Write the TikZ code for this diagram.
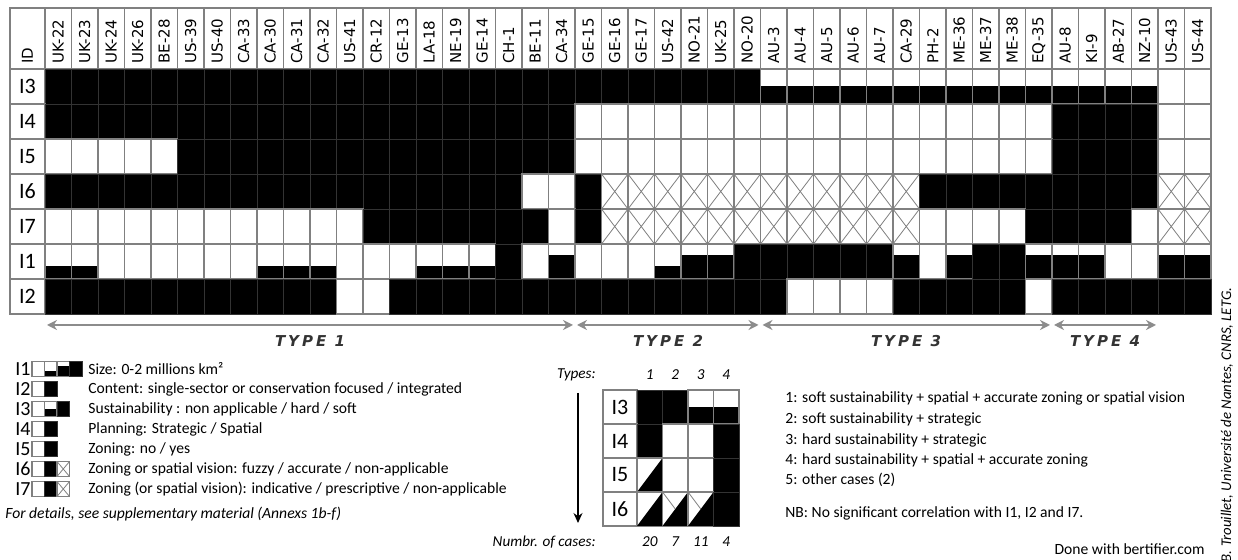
\documentclass[tikz,border=0pt]{standalone}
\usepackage{fontspec}
\setmainfont{Carlito}
\newfontfamily\hdrfont{DejaVu Sans}
\newfontfamily\typefont[LetterSpace=20]{DejaVu Sans}
\usetikzlibrary{arrows.meta}
\newcommand\cellw{26.5}
\newcommand\cellh{35}
\tikzset{
    cellbox/.style = {draw=gray, line width=0.6pt},
    cellblack/.style = {draw=black!80, line width=0.3pt, fill=black},
    % one cell of the matrix, drawn from its top left corner
    pics/cell w/.style = {code={\path[cellbox, fill=white] (0,0) rectangle (\cellw,\cellh);}},
    pics/cell b/.style = {code={\path[cellblack] (0,0) rectangle (\cellw,\cellh);}},
    pics/cell x/.style = {code={\path[cellbox, fill=white] (0,0) rectangle (\cellw,\cellh);
            \draw[gray, line width=0.4pt] (0,0) -- (\cellw,\cellh) (\cellw,0) -- (0,\cellh);}},
    pics/cell h/.style = {code={\fill[white] (0,0) rectangle (\cellw,\cellh);
            \fill[black] (0,{0.5*\cellh}) rectangle (\cellw,\cellh);
            \path[cellbox] (0,0) rectangle (\cellw,\cellh);}},
    pics/cell s/.style = {code={\fill[white] (0,0) rectangle (\cellw,\cellh);
            \fill[black] (0,{0.63*\cellh}) rectangle (\cellw,\cellh);
            \path[cellbox] (0,0) rectangle (\cellw,\cellh);}},
    pics/cell g/.style = {code={\fill[white] (0,0) rectangle (\cellw,\cellh);
            \fill[black] (0,{0.31*\cellh}) rectangle (\cellw,\cellh);
            \path[cellbox] (0,0) rectangle (\cellw,\cellh);}},
    pics/cell t/.style = {code={\path[cellbox, fill=white] (0,0) rectangle (\cellw,\cellh);
            \fill[black] (0,\cellh) -- (\cellw,0) -- (\cellw,\cellh) -- cycle;}},
    pics/cell tx/.style = {code={\path[cellbox, fill=white] (0,0) rectangle (\cellw,\cellh);
            \fill[black] (0,\cellh) -- (\cellw,0) -- (\cellw,\cellh) -- cycle;
            \draw[gray, line width=0.4pt] (0,0) -- ({0.5*\cellw},{0.5*\cellh});}},
    hdr/.style = {rotate=90, anchor=west, inner sep=1pt, font=\hdrfont\fontsize{7.5}{9}\selectfont},
    rowlab/.style = {inner sep=0pt, font=\fontsize{11}{13}\selectfont},
    legtext/.style = {anchor=west, inner sep=0pt, font=\fontsize{7.8}{9}\selectfont},
    typelab/.style = {text=black!80, font=\typefont\bfseries\itshape\fontsize{7.5}{9}\selectfont},
    typearrow/.style = {{Stealth[length=5pt,width=5pt]}-{Stealth[length=5pt,width=5pt]},
        draw=gray!90, line width=1pt, shorten <=1pt, shorten >=1pt},
}

\begin{document}
\begin{tikzpicture}[x=0.5pt, y=-0.5pt]
    \useasboundingbox[fill=white] (0,0) rectangle (1238,560);

    % header row
    \path[cellbox, fill=white] (10,8) rectangle (45,69);
    \node[hdr] (hID) at (27.5,66) {ID};
    \foreach \n [count=\i] in {UK-22,UK-23,UK-24,UK-26,BE-28,US-39,US-40,CA-33,CA-30,CA-31,CA-32,US-41,CR-12,GE-13,LA-18,NE-19,GE-14,CH-1,BE-11,CA-34,GE-15,GE-16,GE-17,US-42,NO-21,UK-25,NO-20,AU-3,AU-4,AU-5,AU-6,AU-7,CA-29,PH-2,ME-36,ME-37,ME-38,EQ-35,AU-8,KI-9,AB-27,NZ-10,US-43,US-44} {
        \path[cellbox, fill=white] ({45+(\i-1)*26.5},8) rectangle ++(26.5,61);
        \node[hdr] (h\i) at ({45+(\i-0.5)*26.5},66) {\n};
    }

    % matrix cells
    \foreach \lab/\vals [count=\r] in {
        I3/{b,b,b,b,b,b,b,b,b,b,b,b,b,b,b,b,b,b,b,b,b,b,b,b,b,b,b,h,h,h,h,h,h,h,h,h,h,h,h,h,h,h,w,w},
        I4/{b,b,b,b,b,b,b,b,b,b,b,b,b,b,b,b,b,b,b,b,w,w,w,w,w,w,w,w,w,w,w,w,w,w,w,w,w,w,b,b,b,b,w,w},
        I5/{w,w,w,w,w,b,b,b,b,b,b,b,b,b,b,b,b,b,b,b,w,w,w,w,w,w,w,w,w,w,w,w,w,w,w,w,w,w,b,b,b,b,w,w},
        I6/{b,b,b,b,b,b,b,b,b,b,b,b,b,b,b,b,b,b,w,w,b,x,x,x,x,x,x,x,x,x,x,x,x,b,b,b,b,b,b,b,b,b,x,x},
        I7/{w,w,w,w,w,w,w,w,w,w,w,w,b,b,b,b,b,b,b,w,b,x,x,x,x,x,x,x,x,x,x,x,x,w,w,w,w,b,b,b,b,w,x,x},
        I1/{s,s,w,w,w,w,w,w,s,s,s,w,w,w,s,s,s,b,w,g,w,w,w,s,g,g,b,b,b,b,b,b,g,w,g,b,b,g,g,g,w,w,g,g},
        I2/{b,b,b,b,b,b,b,b,b,b,b,w,w,b,b,b,b,b,b,b,b,b,b,b,b,b,b,b,w,w,w,w,b,b,b,b,b,w,b,b,b,b,b,b}} {
        \path[cellbox, fill=white] (10,{69+(\r-1)*35}) rectangle ++(35,35);
        \node[rowlab] (r\lab) at (27.5,{69+(\r-0.5)*35}) {\lab};
        \foreach \c [count=\i] in \vals
            \pic at ({45+(\i-1)*26.5},{69+(\r-1)*35}) {cell \c};
    }

    % types
    \coordinate (t0) at (45,325);
    \coordinate (t1) at (575,325);
    \coordinate (t2) at (760.5,325);
    \coordinate (t3) at (1052,325);
    \coordinate (t4) at (1158,325);
    \draw[typearrow] (t0) -- (t1);
    \draw[typearrow] (t1) -- (t2);
    \draw[typearrow] (t2) -- (t3);
    \draw[typearrow] (t3) -- (t4);
    \node[typelab] (type1) at (310,341) {TYPE 1};
    \node[typelab] (type2) at (668,341) {TYPE 2};
    \node[typelab] (type3) at (906,341) {TYPE 3};
    \node[typelab] (type4) at (1105,341) {TYPE 4};

    % legend
    \renewcommand\cellw{12.5}
    \renewcommand\cellh{15}
    \foreach \lab/\vals [count=\k] in {I1/{w,s,g,b}, I2/{w,b}, I3/{w,h,b}, I4/{w,b}, I5/{w,b}, I6/{w,b,x}, I7/{w,b,x}} {
        \node[rowlab, anchor=east, font=\fontsize{10}{12}\selectfont] (l\lab) at (31,{369+(\k-1)*20}) {\lab};
        \foreach \c [count=\i] in \vals
            \pic at ({32+(\i-1)*12.5},{361.5+(\k-1)*20}) {cell \c};
    }
    \node[legtext] (leg1) at (88,369) {Size: 0-2 millions km²};
    \node[legtext] (leg2) at (88,389) {Content: single-sector or conservation focused / integrated};
    \node[legtext] (leg3) at (88,409) {Sustainability : non applicable / hard / soft};
    \node[legtext] (leg4) at (88,429) {Planning: Strategic / Spatial};
    \node[legtext] (leg5) at (88,449) {Zoning: no / yes};
    \node[legtext] (leg6) at (88,469) {Zoning or spatial vision: fuzzy / accurate / non-applicable};
    \node[legtext] (leg7) at (88,489) {Zoning (or spatial vision): indicative / prescriptive / non-applicable};
    \node[legtext, font=\fontsize{7.8}{9}\selectfont\itshape] (details) at (5,514) {For details, see supplementary material (Annexs 1b-f)};

    % summary matrix
    \renewcommand\cellw{25.5}
    \renewcommand\cellh{34}
    \foreach \lab/\vals [count=\r] in {I3/{b,b,h,h}, I4/{b,w,w,b}, I5/{t,w,w,b}, I6/{t,tx,tx,b}} {
        \path[cellbox, fill=white] (603,{390+(\r-1)*34}) rectangle ++(34,34);
        \node[rowlab] (s\lab) at (620,{390+(\r-0.5)*34}) {\lab};
        \foreach \c [count=\i] in \vals
            \pic at ({637+(\i-1)*25.5},{390+(\r-1)*34}) {cell \c};
    }
    \node[legtext, anchor=east, font=\fontsize{7.6}{9}\selectfont\itshape] (types) at (596,375) {Types:};
    \node[legtext, anchor=east, font=\fontsize{7.6}{9}\selectfont\itshape] (cases) at (596,542) {Numbr. of cases:};
    \foreach \t/\m [count=\i] in {1/20, 2/7, 3/11, 4/4} {
        \node[font=\fontsize{7.6}{9}\selectfont\itshape, inner sep=0pt] (tn\i) at ({637+(\i-0.5)*25.5},375) {\t};
        \node[font=\fontsize{7.6}{9}\selectfont\itshape, inner sep=0pt] (cn\i) at ({637+(\i-0.5)*25.5},542) {\m};
    }
    \coordinate (down1) at (578,393);
    \coordinate (down2) at (578,523);
    \draw[-{Stealth[length=5pt,width=4.5pt]}, line width=0.6pt] (down1) -- (down2);

    % type descriptions
    \node[legtext] (desc1) at (785,398) {1: soft sustainability + spatial + accurate zoning or spatial vision};
    \node[legtext] (desc2) at (785,419) {2: soft sustainability + strategic};
    \node[legtext] (desc3) at (785,440) {3: hard sustainability + strategic};
    \node[legtext] (desc4) at (785,460) {4: hard sustainability + spatial + accurate zoning};
    \node[legtext] (desc5) at (785,480) {5: other cases (2)};
    \node[legtext] (nb) at (785,513) {NB: No significant correlation with I1, I2 and I7.};
    \node[legtext, anchor=east] (done) at (1205,549) {Done with bertifier.com};
    \node[rotate=90, inner sep=0pt, font=\fontsize{7.4}{8}\selectfont\itshape] (credit) at (1227,425) {B. Trouillet, Université de Nantes, CNRS, LETG.};
\end{tikzpicture}
\end{document}
